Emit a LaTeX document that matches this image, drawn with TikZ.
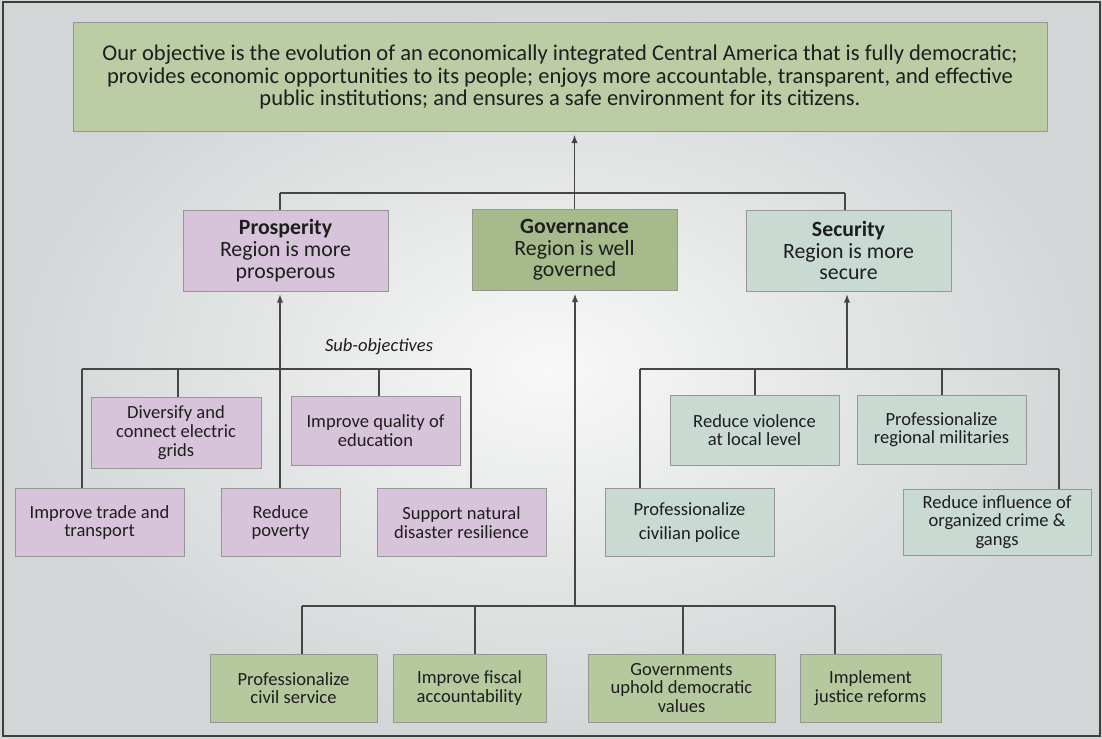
\documentclass[tikz,border=0pt]{standalone}
\usepackage{fontspec}
\setmainfont{Carlito}
\usetikzlibrary{arrows.meta}

\definecolor{bgedge}{RGB}{210,214,214}
\definecolor{bgmid}{RGB}{248,248,248}
\definecolor{topgreen}{RGB}{188,204,164}
\definecolor{govgreen}{RGB}{166,186,140}
\definecolor{lowgreen}{RGB}{182,200,158}
\definecolor{prospink}{RGB}{216,196,218}
\definecolor{secblue}{RGB}{200,218,210}
\definecolor{boxline}{RGB}{150,150,150}
\definecolor{linecol}{RGB}{70,70,70}
\definecolor{txtcol}{RGB}{30,30,30}

\newcommand{\aimfont}{\fontsize{16}{15.8}\selectfont}
\newcommand{\goalfont}{\fontsize{15.5}{15.4}\selectfont}
\newcommand{\subfont}{\fontsize{13.2}{13.3}\selectfont}

\begin{document}
\begin{tikzpicture}[x=0.025cm, y=-0.025cm,
  box/.style={draw=boxline, line width=0.5pt, inner sep=0pt, align=center, text=txtcol},
  goal/.style={box, font=\goalfont, minimum width=5.125cm, minimum height=2.025cm},
  sub/.style={box, font=\subfont, minimum height=1.7cm},
  link/.style={draw=linecol, line width=0.9pt},
  arr/.style={link, -{Latex[length=6pt,width=4.5pt]}, shorten >=2pt}]
\useasboundingbox (0,0) rectangle (1102,738);
\shade[inner color=bgmid, outer color=bgedge] (0,0) rectangle (1102,738);
\draw[black!75, line width=1.2pt] (3,2) rectangle (1100,736);

% top objective
\node[box, font=\aimfont, fill=topgreen, minimum width=24.35cm, minimum height=2.725cm] (aim) at (560,77)
  {Our objective is the evolution of an economically integrated Central America that is fully democratic;\\
   provides economic opportunities to its people; enjoys more accountable, transparent, and effective\\
   public institutions; and ensures a safe environment for its citizens.};

% three goals
\node[goal, fill=prospink] (prosp) at (285.5,250.5) {\textbf{Prosperity}\\Region is more\\prosperous};
\node[goal, fill=govgreen] (gov) at (574.5,250) {\textbf{Governance}\\Region is well\\governed};
\node[goal, fill=secblue] (secur) at (848.5,250.5) {\textbf{Security}\\Region is more\\secure};

% prosperity sub-objectives
\node[sub, fill=prospink, minimum width=4.25cm, minimum height=1.775cm] (grids) at (176,432.5) {Diversify and\\connect electric\\grids};
\node[sub, fill=prospink, minimum width=4.225cm, minimum height=1.725cm] (school) at (375.5,430.5) {Improve quality of\\education};
\node[sub, fill=prospink, minimum width=4.225cm] (trade) at (99.5,522.5) {Improve trade and\\transport};
\node[sub, fill=prospink, minimum width=2.975cm] (poverty) at (280.5,522.5) {Reduce\\poverty};
\node[sub, fill=prospink, minimum width=4.225cm] (disaster) at (461.5,522.5) {Support natural\\disaster resilience};
\node[font=\subfont\itshape, text=txtcol] (subobj) at (379,347) {Sub-objectives};

% security sub-objectives
\node[sub, fill=secblue, minimum width=4.225cm, minimum height=1.75cm] (violence) at (754.5,430) {Reduce violence\\at local level};
\node[sub, fill=secblue, minimum width=4.225cm, minimum height=1.725cm] (military) at (941.5,429.5) {Professionalize\\regional militaries};
\node[sub, fill=secblue, minimum width=4.225cm] (police) at (689.5,522.5) {Professionalize\\[4pt]civilian police};
\node[sub, fill=secblue, minimum width=4.7cm, minimum height=1.65cm] (crime) at (997,522) {Reduce influence of\\organized crime \&\\gangs};

% governance sub-objectives
\node[sub, fill=lowgreen, minimum width=4.175cm] (civil) at (293.5,688) {Professionalize\\civil service};
\node[sub, fill=lowgreen, minimum width=3.825cm] (fiscal) at (469.5,688) {Improve fiscal\\accountability};
\node[sub, fill=lowgreen, minimum width=4.675cm] (values) at (681.5,688) {Governments\\uphold democratic\\values};
\node[sub, fill=lowgreen, minimum width=3.525cm] (justice) at (870.5,688) {Implement\\justice reforms};

% junctions
\coordinate (tl) at (280,193);
\coordinate (tr) at (845,193);
\coordinate (pj) at (280,369);
\coordinate (sj) at (847,369);
\coordinate (gj) at (575,606);

% goals up to the objective
\draw[link] (tl) -- (tr);
\draw[link] (tl) -- (tl |- prosp.north);
\draw[link] (tr) -- (tr |- secur.north);
\draw[arr] (gov.north) -- (gov.north |- aim.south);

% sub-objectives up to the goals
\draw[link] (82,369) -- (471,369);
\draw[arr] (pj) -- (pj |- prosp.south);
\foreach \x/\n in {82/trade,178/grids,280/poverty,379/school,471/disaster}
  \draw[link] (\x,369) -- (\x,369 |- \n.north);

\draw[link] (640,369) -- (1059,369);
\draw[arr] (sj) -- (sj |- secur.south);
\foreach \x/\n in {640/police,755/violence,942/military,1059/crime}
  \draw[link] (\x,369) -- (\x,369 |- \n.north);

\draw[link] (302,606) -- (835,606);
\draw[arr] (gj) -- (gj |- gov.south);
\foreach \x/\n in {302/civil,475/fiscal,683/values,835/justice}
  \draw[link] (\x,606) -- (\x,606 |- \n.north);
\end{tikzpicture}
\end{document}
